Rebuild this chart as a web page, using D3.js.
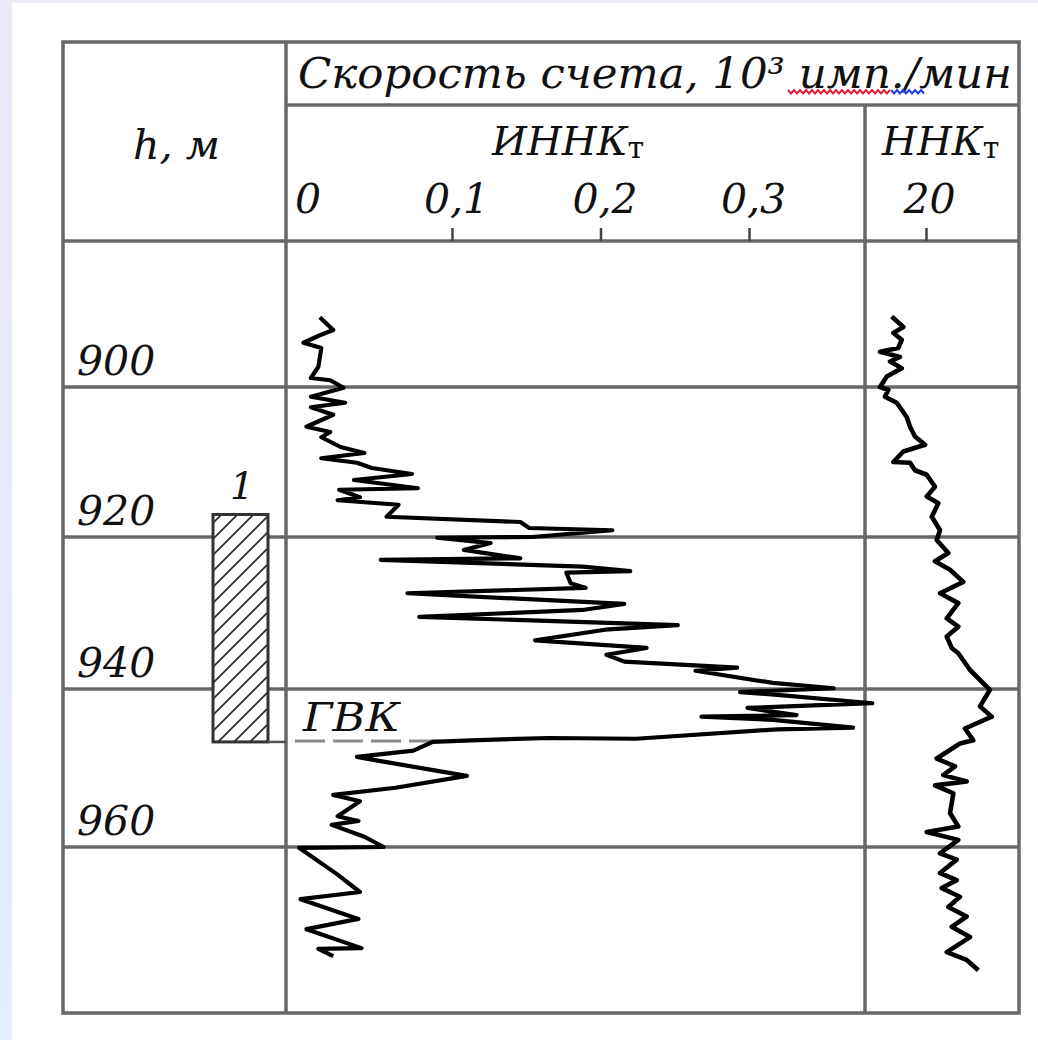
<!DOCTYPE html>
<html>
<head>
<meta charset="utf-8">
<script src="https://cdn.jsdelivr.net/npm/d3@7"></script>
<style>
    body { margin: 0; background: #fff; }
    svg text { font-family: "DejaVu Serif", serif; font-style: italic; fill: #111; }
</style>
</head>
<body>
<div id="chart"></div>
<script>
// depth grid (m)
const depthTicks = [900, 920, 940, 960];

// ИННКт scale ticks, 10^3 imp/min
const innkTicks = [0.1, 0.2, 0.3];
const innkLabelValues = [0, 0.1, 0.2, 0.3];
const innkLabels = ["0", "0,1", "0,2", "0,3"];

// ННКт scale ticks
const nnkTicks = [20];
const nnkLabels = ["20"];

// collector interval "1" and gas-water contact (m)
const layerTop = 917.0;
const layerBottom = 946.7;
const gvkDepth = 946.7;

// ИННКт log: [depth m, count rate]
const innkLog = [
    [890.7, 0.011], [892.4, 0.020], [893.1, 0.011], [894.1, 0.000], [894.8, 0.012],
    [897.3, 0.010], [898.8, 0.005], [899.1, 0.018], [900.1, 0.027], [901.3, 0.005],
    [902.1, 0.028], [902.7, 0.005], [903.7, 0.020], [905.3, 0.002], [906.0, 0.018],
    [906.7, 0.012], [908.0, 0.025], [908.8, 0.041], [909.5, 0.012], [910.1, 0.036],
    [910.8, 0.046], [911.6, 0.073], [912.4, 0.034], [913.5, 0.077], [913.7, 0.024],
    [914.7, 0.038], [915.1, 0.023], [915.7, 0.064], [917.3, 0.056], [918.0, 0.146],
    [918.8, 0.152], [919.1, 0.208], [920.0, 0.154], [920.1, 0.090], [920.8, 0.126],
    [921.7, 0.108], [922.8, 0.146], [923.0, 0.052], [923.9, 0.188], [924.5, 0.220],
    [924.7, 0.177], [926.1, 0.180], [926.7, 0.190], [927.4, 0.070], [928.8, 0.216],
    [929.6, 0.188], [930.5, 0.078], [931.6, 0.252], [932.2, 0.203], [933.6, 0.156],
    [934.6, 0.231], [935.5, 0.204], [936.4, 0.216], [937.2, 0.292], [937.6, 0.264],
    [939.2, 0.316], [939.9, 0.357], [940.4, 0.294], [940.8, 0.323], [941.8, 0.383],
    [942.4, 0.299], [943.3, 0.332], [943.5, 0.268], [943.9, 0.316], [944.9, 0.370],
    [945.1, 0.319], [946.3, 0.224], [946.2, 0.165], [946.5, 0.113], [946.7, 0.087],
    [947.8, 0.074], [948.6, 0.036], [949.1, 0.051], [951.0, 0.110], [952.5, 0.062],
    [953.4, 0.020], [954.2, 0.038], [956.1, 0.023], [956.7, 0.037], [957.2, 0.019],
    [958.7, 0.041], [960.0, 0.054], [960.1, -0.003], [963.5, 0.023], [965.7, 0.038],
    [966.6, -0.002], [969.1, 0.037], [970.4, 0.002], [972.8, 0.039], [972.9, 0.010],
    [973.8, 0.020]
];

// ННКт log: [depth m, count rate]
const nnkLog = [
    [890.6, 17.14], [892.0, 18.11], [892.8, 17.28], [893.7, 17.98], [894.8, 17.69],
    [895.3, 16.17], [896.0, 17.83], [896.6, 17.00], [897.5, 17.98], [898.6, 16.73],
    [900.0, 16.17], [900.4, 16.86], [901.3, 16.58], [902.1, 17.56], [904.0, 18.39],
    [905.3, 18.67], [906.6, 19.08], [907.7, 19.92], [908.6, 18.11], [910.0, 17.28],
    [910.1, 18.67], [911.1, 19.08], [911.7, 20.06], [913.3, 20.75], [914.6, 20.06],
    [915.5, 21.03], [917.3, 20.48], [919.1, 21.17], [920.4, 20.89], [922.1, 21.86],
    [923.2, 20.75], [924.3, 22.00], [925.9, 23.11], [927.4, 21.17], [928.7, 22.69],
    [930.7, 21.73], [931.8, 22.69], [933.1, 21.73], [934.6, 22.14], [935.3, 22.69],
    [937.5, 23.67], [940.1, 25.33], [942.2, 24.50], [943.5, 25.48], [945.0, 23.25],
    [946.5, 23.94], [946.9, 22.83], [948.8, 20.89], [949.8, 22.42], [950.9, 21.44],
    [951.7, 23.39], [952.2, 20.75], [953.2, 22.28], [955.7, 22.00], [957.4, 22.69],
    [958.1, 20.06], [959.1, 22.69], [960.8, 21.17], [961.6, 22.56], [963.3, 21.17],
    [964.2, 22.56], [965.2, 21.31], [966.3, 22.83], [967.6, 21.86], [968.8, 23.39],
    [970.1, 22.14], [971.4, 23.67], [973.3, 21.73], [974.3, 23.39], [975.6, 24.36]
];

drawLogChart();

function drawLogChart() {
    const width = 1038;
    const height = 1040;

    // table frame
    const frame = {left: 63, right: 1019, top: 42, bottom: 1013};
    const col1 = 286;
    const col2 = 865;
    const headMid = 105;
    const headBottom = 241;
    const gridColor = "#686868";

    const svg = d3.select("#chart")
        .append("svg")
        .attr("width", width)
        .attr("height", height);

    // slide background strip
    const defs = svg.append("defs");
    const grad = defs.append("linearGradient")
        .attr("id", "bgGrad")
        .attr("x1", 0).attr("y1", 0).attr("x2", 0).attr("y2", 1);
    grad.append("stop").attr("offset", "0%").attr("stop-color", "#ece8f8");
    grad.append("stop").attr("offset", "100%").attr("stop-color", "#e2edfd");

    svg.append("rect")
        .attr("width", width).attr("height", height)
        .attr("fill", "#fff");
    svg.append("rect")
        .attr("width", 12).attr("height", height)
        .attr("fill", "url(#bgGrad)");
    svg.append("rect")
        .attr("width", width).attr("height", 3)
        .attr("fill", "#ece9f8");

    // hatch pattern
    const hatch = defs.append("pattern")
        .attr("id", "hatch")
        .attr("patternUnits", "userSpaceOnUse")
        .attr("width", 16).attr("height", 16);
    hatch.append("rect").attr("width", 16).attr("height", 16).attr("fill", "#fff");
    hatch.append("path")
        .attr("d", "M-4,4 L4,-4 M0,16 L16,0 M12,20 L20,12")
        .attr("stroke", "#2a2a2a")
        .attr("stroke-width", 1.7);

    // scales
    const y = d3.scaleLinear()
        .domain([880, 900, 920, 940, 960, 980])
        .range([237, 387, 537, 689, 847, 1005]);

    const xInnk = d3.scaleLinear()
        .domain([0, 0.3])
        .range([303.5, 749]);

    const xNnk = d3.scaleLinear()
        .domain([15, 25])
        .range([866, 986]);

    // depth grid lines
    svg.append("g")
        .selectAll("line")
        .data(depthTicks)
        .join("line")
        .attr("x1", frame.left).attr("x2", frame.right)
        .attr("y1", d => y(d)).attr("y2", d => y(d))
        .attr("stroke", gridColor)
        .attr("stroke-width", 3.5);

    // table lines
    const table = svg.append("g")
        .attr("stroke", gridColor)
        .attr("stroke-width", 3.5)
        .attr("fill", "none");

    table.append("rect")
        .attr("x", frame.left).attr("y", frame.top)
        .attr("width", frame.right - frame.left)
        .attr("height", frame.bottom - frame.top);
    table.append("line")
        .attr("x1", col1).attr("x2", col1)
        .attr("y1", frame.top).attr("y2", frame.bottom);
    table.append("line")
        .attr("x1", col2).attr("x2", col2)
        .attr("y1", headMid).attr("y2", frame.bottom);
    table.append("line")
        .attr("x1", col1).attr("x2", frame.right)
        .attr("y1", headMid).attr("y2", headMid);
    table.append("line")
        .attr("x1", frame.left).attr("x2", frame.right)
        .attr("y1", headBottom).attr("y2", headBottom);

    // scale ticks on the header bottom
    const innkAxis = svg.append("g")
        .attr("transform", `translate(0,${headBottom})`)
        .call(d3.axisTop(xInnk).tickValues(innkTicks).tickSize(13).tickFormat(""));
    const nnkAxis = svg.append("g")
        .attr("transform", `translate(0,${headBottom})`)
        .call(d3.axisTop(xNnk).tickValues(nnkTicks).tickSize(13).tickFormat(""));
    [innkAxis, nnkAxis].forEach(ax => {
        ax.select(".domain").remove();
        ax.selectAll(".tick line")
            .attr("stroke", "#444")
            .attr("stroke-width", 2.5);
    });

    // header texts
    svg.append("text")
        .attr("x", 298).attr("y", 88)
        .attr("textLength", 714)
        .attr("lengthAdjust", "spacingAndGlyphs")
        .style("font-size", "42px")
        .text("Скорость счета, 10³ имп./мин");

    // word spell-check squiggle under "имп./"
    function squiggle(x0, x1, yy) {
        let p = `M${x0},${yy}`;
        for (let x = x0 + 3, k = 0; x <= x1; x += 3, k++) {
            p += ` L${x},${yy + (k % 2 === 0 ? 3.5 : 0)}`;
        }
        return p;
    }
    svg.append("path")
        .attr("d", squiggle(788, 891, 90))
        .attr("fill", "none").attr("stroke", "#e0203a").attr("stroke-width", 2);
    svg.append("path")
        .attr("d", squiggle(891, 924, 90))
        .attr("fill", "none").attr("stroke", "#2040e0").attr("stroke-width", 2);

    svg.append("text")
        .attr("x", 133).attr("y", 159)
        .attr("textLength", 87)
        .attr("lengthAdjust", "spacingAndGlyphs")
        .style("font-size", "41px")
        .text("h, м");

    const innkTitle = svg.append("text")
        .attr("x", 492).attr("y", 155)
        .style("font-size", "40px");
    innkTitle.append("tspan").text("ИННК");
    innkTitle.append("tspan").attr("dy", 3)
        .style("font-size", "30px").style("font-style", "normal").text("т");

    const nnkTitle = svg.append("text")
        .attr("x", 882).attr("y", 155)
        .style("font-size", "40px");
    nnkTitle.append("tspan").text("ННК");
    nnkTitle.append("tspan").attr("dy", 3)
        .style("font-size", "30px").style("font-style", "normal").text("т");

    svg.append("g")
        .selectAll("text")
        .data(innkLabelValues)
        .join("text")
        .attr("x", d => xInnk(d) + 4.5)
        .attr("y", 213)
        .attr("text-anchor", "middle")
        .style("font-size", "41px")
        .text((d, i) => innkLabels[i]);

    svg.append("g")
        .selectAll("text")
        .data(nnkTicks)
        .join("text")
        .attr("x", d => xNnk(d) + 3.5)
        .attr("y", 213)
        .attr("text-anchor", "middle")
        .style("font-size", "41px")
        .text((d, i) => nnkLabels[i]);

    // depth labels
    svg.append("g")
        .selectAll("text")
        .data(depthTicks)
        .join("text")
        .attr("x", 77)
        .attr("y", d => y(d) - 12)
        .style("font-size", "41px")
        .text(d => d);

    // layer 1 (hatched)
    svg.append("rect")
        .attr("x", 213).attr("y", y(layerTop))
        .attr("width", 55)
        .attr("height", y(layerBottom) - y(layerTop))
        .attr("fill", "url(#hatch)")
        .attr("stroke", "#333")
        .attr("stroke-width", 3);

    svg.append("text")
        .attr("x", 242).attr("y", y(layerTop) - 16)
        .attr("text-anchor", "middle")
        .style("font-size", "38px")
        .text("1");

    // ГВК contact line
    svg.append("line")
        .attr("x1", 268).attr("x2", col1)
        .attr("y1", y(gvkDepth)).attr("y2", y(gvkDepth))
        .attr("stroke", "#555").attr("stroke-width", 2.5);
    svg.append("line")
        .attr("x1", 295).attr("x2", 442)
        .attr("y1", y(gvkDepth) - 1).attr("y2", y(gvkDepth) - 1)
        .attr("stroke", "#8a8a8a").attr("stroke-width", 3)
        .attr("stroke-dasharray", "30,8");

    svg.append("text")
        .attr("x", 303).attr("y", y(gvkDepth) - 11)
        .attr("textLength", 97)
        .attr("lengthAdjust", "spacingAndGlyphs")
        .style("font-size", "40px")
        .text("ГВК");

    // log curves
    const innkLine = d3.line()
        .x(d => xInnk(d[1]))
        .y(d => y(d[0]));

    const nnkLine = d3.line()
        .x(d => xNnk(d[1]))
        .y(d => y(d[0]));

    svg.append("path")
        .datum(innkLog)
        .attr("d", innkLine)
        .attr("fill", "none")
        .attr("stroke", "#000")
        .attr("stroke-width", 4.2)
        .attr("stroke-linejoin", "round");

    svg.append("path")
        .datum(nnkLog)
        .attr("d", nnkLine)
        .attr("fill", "none")
        .attr("stroke", "#000")
        .attr("stroke-width", 4.6)
        .attr("stroke-linejoin", "round");
}
</script>
</body>
</html>
